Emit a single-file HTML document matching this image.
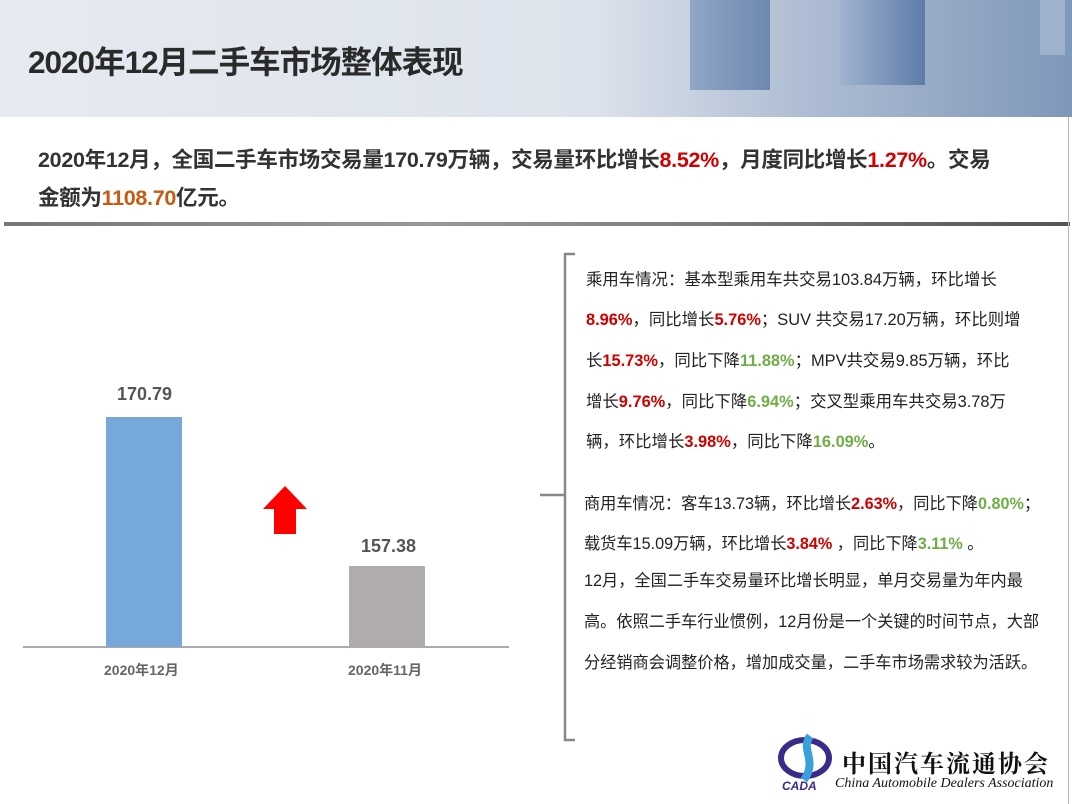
<!DOCTYPE html>
<html><head><meta charset="utf-8"><style>
*{margin:0;padding:0;box-sizing:border-box}
body{width:1072px;height:804px;position:relative;background:#fff;font-family:"Liberation Sans","Noto Sans CJK SC",sans-serif;overflow:hidden}
.hdr{position:absolute;left:0;top:0;width:1072px;height:117px;background:linear-gradient(90deg,#e6eaf1 0%,#dde3ec 55%,#aebdd3 75%,#7f97b9 100%)}
.t{position:absolute;left:28px;top:37px;font-size:31.5px;font-weight:bold;color:#2a2a2a;letter-spacing:-1px}
.sum{position:absolute;left:38px;top:141px;font-size:21.5px;font-weight:bold;color:#333;line-height:38px;letter-spacing:-0.3px}
.r{color:#d00000}.o{color:#c55a11}.g{color:#70ad47}
.line{position:absolute;left:4px;top:222px;width:1066px;height:4px;background:linear-gradient(90deg,#777,#999 40%,#555)}
.rt{position:absolute;left:586px;font-size:16.4px;color:#222;white-space:nowrap}
.rt b{font-weight:bold}
.lbl{position:absolute;font-size:18px;font-weight:bold;color:#555;font-family:"Liberation Sans Narrow","Liberation Sans",sans-serif}
.ax{position:absolute;font-size:14px;font-weight:bold;color:#666}
</style></head><body>
<div class="hdr">
 <div style="position:absolute;left:690px;top:0;width:80px;height:90px;background:linear-gradient(90deg,#8fa6c6,#6e88b0);"></div>
 <div style="position:absolute;left:840px;top:0;width:85px;height:85px;background:linear-gradient(90deg,#9fb3cf,#5f7ca8);"></div>
 <div style="position:absolute;left:1040px;top:0;width:25px;height:55px;background:#9fb3cf;"></div>
</div>
<div class="t">2020年12月二手车市场整体表现</div>
<div class="sum">2020年12月，全国二手车市场交易量170.79万辆，交易量环比增长<span class="r">8.52%</span>，月度同比增长<span class="r">1.27%</span>。交易<br>金额为<span class="o">1108.70</span>亿元。</div>
<div class="line"></div>
<div style="position:absolute;left:1068px;top:117px;width:1px;height:687px;background:#bbb"></div>

<div style="position:absolute;left:23px;top:646px;width:486px;height:2px;background:#aaa"></div>
<div style="position:absolute;left:106px;top:417px;width:76px;height:230px;background:#76a9da"></div>
<div style="position:absolute;left:349px;top:566px;width:76px;height:81px;background:#afacab"></div>
<div class="lbl" style="left:117px;top:384px">170.79</div>
<div class="lbl" style="left:361px;top:536px">157.38</div>
<div class="ax" style="left:104px;top:660px">2020年12月</div>
<div class="ax" style="left:348px;top:660px">2020年11月</div>
<svg style="position:absolute;left:263px;top:486px" width="44" height="48"><polygon points="22,0 44,23 33,23 33,48 11,48 11,23 0,23" fill="#ff0000"/></svg>

<svg style="position:absolute;left:538px;top:250px" width="40" height="494"><path d="M37,4 H27 V490 H37 M27,245 H2" stroke="#888" stroke-width="2.5" fill="none"/></svg>

<div class="rt" style="top:266px">乘用车情况：基本型乘用车共交易103.84万辆，环比增长</div>
<div class="rt" style="top:306px"><b class="r">8.96%</b>，同比增长<b class="r">5.76%</b>；SUV 共交易17.20万辆，环比则增</div>
<div class="rt" style="top:347px">长<b class="r">15.73%</b>，同比下降<b class="g">11.88%</b>；MPV共交易9.85万辆，环比</div>
<div class="rt" style="top:388px">增长<b class="r">9.76%</b>，同比下降<b class="g">6.94%</b>；交叉型乘用车共交易3.78万</div>
<div class="rt" style="top:428px">辆，环比增长<b class="r">3.98%</b>，同比下降<b class="g">16.09%</b>。</div>
<div class="rt" style="top:490px;left:584px;font-size:16.2px">商用车情况：客车13.73辆，环比增长<b class="r">2.63%</b>，同比下降<b class="g">0.80%</b>；</div>
<div class="rt" style="top:530px;left:584px;font-size:16.2px">载货车15.09万辆，环比增长<b class="r">3.84%</b> ，同比下降<b class="g">3.11%</b> 。</div>
<div class="rt" style="top:567px;left:584px;font-size:16.2px">12月，全国二手车交易量环比增长明显，单月交易量为年内最</div>
<div class="rt" style="top:608px;left:584px;font-size:16.2px">高。依照二手车行业惯例，12月份是一个关键的时间节点，大部</div>
<div class="rt" style="top:649px;left:584px;font-size:16.2px">分经销商会调整价格，增加成交量，二手车市场需求较为活跃。</div>

<svg style="position:absolute;left:778px;top:730px" width="56" height="62"><ellipse cx="27" cy="28" rx="24" ry="18" fill="none" stroke="#3b2a8a" stroke-width="6"/><path d="M32,6 C22,20 40,30 26,50" stroke="#3aa0dc" stroke-width="8" fill="none"/><text x="4" y="60" font-size="12" font-weight="bold" font-style="italic" fill="#3b2a8a" font-family="Liberation Sans">CADA</text></svg>
<div style="position:absolute;left:842px;top:744px;font-size:24px;font-weight:bold;color:#111;letter-spacing:2px;font-family:'Noto Serif CJK SC',serif">中国汽车流通协会</div>
<div style="position:absolute;left:835px;top:776px;font-size:14px;font-style:italic;color:#111;font-family:'Liberation Serif',serif">China Automobile Dealers Association</div>
</body></html>
